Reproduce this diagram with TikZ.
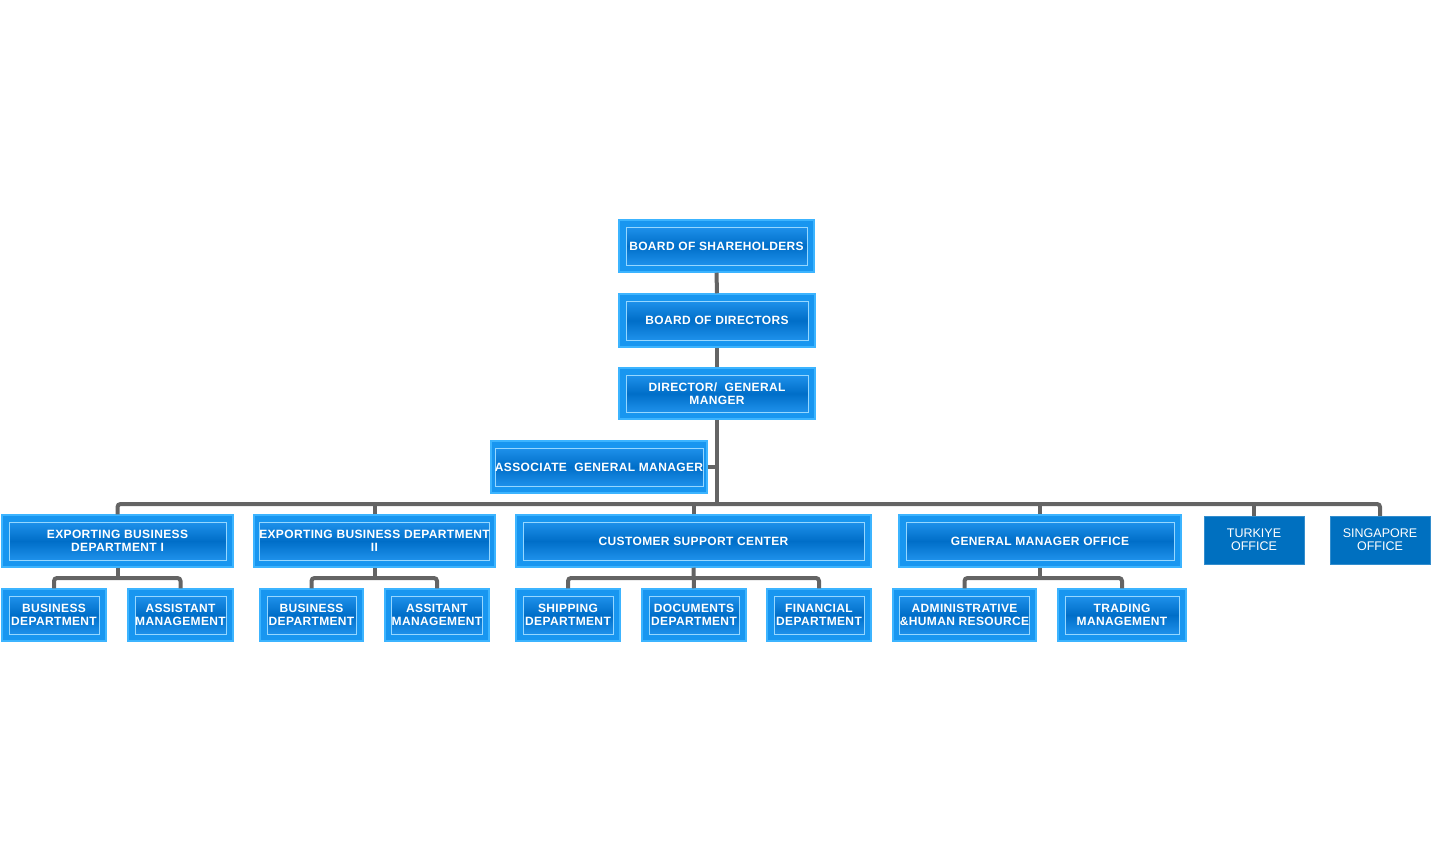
\documentclass[tikz,border=0pt]{standalone}
\usepackage{fontspec}
\setmainfont{Liberation Sans}
\usetikzlibrary{calc}
\definecolor{outerc}{RGB}{24,150,240}
\definecolor{outerd}{RGB}{60,180,255}
\definecolor{innerd}{RGB}{150,215,255}
\definecolor{innerdark}{RGB}{0,110,200}
\definecolor{innerlight}{RGB}{30,145,235}
\definecolor{flatc}{RGB}{0,112,192}
\definecolor{connc}{RGB}{100,100,100}
\tikzset{
  outerbox/.style={draw=outerd, line width=1.5pt, fill=outerc, inner sep=0pt},
  innerbox/.style={draw=innerd, line width=0.8pt, top color=innerlight, bottom color=innerlight, middle color=innerdark,
    inner sep=0pt, text=white, align=center, font=\fontsize{12}{13}\selectfont\bfseries\addfontfeatures{LetterSpace=3}},
  flatbox/.style={fill=flatc, draw=flatc!80!white, inner sep=0pt, text=white, align=center,
    font=\fontsize{12.5}{13}\selectfont},
  conn/.style={draw=connc, line width=4pt, rounded corners=3pt},
}
\newcommand{\bevbox}[6]{%
  \node[outerbox, minimum width={#4-#2}, minimum height={#5-#3}] (#1) at ({(#2+#4)/2},{(#3+#5)/2}) {};
  \node[innerbox, minimum width={#4-#2-14}, minimum height={#5-#3-14}] (#1-in) at (#1.center) {#6};
}
\begin{document}
\begin{tikzpicture}[x=1pt,y=-1pt]
\useasboundingbox (0,0) rectangle (1434,861);
% coordinates for buses
\coordinate (bus) at (0,504);
\coordinate (subbus) at (0,578);
% connectors first (behind boxes)
\begin{scope}[on background layer/.try]
\end{scope}
% level 0-1
\bevbox{bs}{619}{220}{814}{272}{BOARD OF SHAREHOLDERS}
\bevbox{bd}{619}{294}{815}{347}{BOARD OF DIRECTORS}
\bevbox{dgm}{619}{368}{815}{419}{DIRECTOR/\ \ GENERAL\\MANGER}
\bevbox{agm}{491}{441}{707}{493}{ASSOCIATE\ \ GENERAL MANAGER}
% level 2
\bevbox{ebd1}{2}{515}{233}{567}{EXPORTING BUSINESS\\DEPARTMENT I}
\bevbox{ebd2}{254}{515}{495}{567}{EXPORTING BUSINESS DEPARTMENT\\II}
\bevbox{csc}{516}{515}{871}{567}{CUSTOMER SUPPORT CENTER}
\bevbox{gmo}{899}{515}{1181}{567}{GENERAL MANAGER OFFICE}
\node[flatbox, minimum width=100, minimum height=48] (tk) at (1254,540) {TURKIYE\\OFFICE};
\node[flatbox, minimum width=100, minimum height=48] (sg) at (1380,540) {SINGAPORE\\OFFICE};
% level 3
\bevbox{bdep1}{2}{589}{106}{641}{BUSINESS\\DEPARTMENT}
\bevbox{am1}{128}{589}{233}{641}{ASSISTANT\\MANAGEMENT}
\bevbox{bdep2}{260}{589}{363}{641}{BUSINESS\\DEPARTMENT}
\bevbox{am2}{385}{589}{489}{641}{ASSITANT\\MANAGEMENT}
\bevbox{ship}{516}{589}{620}{641}{SHIPPING\\DEPARTMENT}
\bevbox{docs}{642}{589}{746}{641}{DOCUMENTS\\DEPARTMENT}
\bevbox{fin}{767}{589}{871}{641}{FINANCIAL\\DEPARTMENT}
\bevbox{adm}{893}{589}{1036}{641}{ADMINISTRATIVE\\\&HUMAN RESOURCE}
\bevbox{trd}{1058}{589}{1186}{641}{TRADING\\MANAGEMENT}
% connectors
\draw[conn] (bs.south) -- (bd.north);
\draw[conn] (bd.south) -- (dgm.north);
\draw[conn] (dgm.south) -- (dgm.south |- bus);
\draw[conn] (agm.east) -- (agm.east -| dgm.south);
\draw[conn] (ebd1.north) |- (dgm.south |- bus) -| (sg.north);
\draw[conn] (ebd2.north) -- (ebd2.north |- bus);
\draw[conn] (csc.north) -- (csc.north |- bus);
\draw[conn] (gmo.north) -- (gmo.north |- bus);
\draw[conn] (tk.north) -- (tk.north |- bus);
% sub-buses
\draw[conn] (bdep1.north) |- (ebd1.south |- subbus) -| (am1.north);
\draw[conn] (ebd1.south) -- (ebd1.south |- subbus);
\draw[conn] (bdep2.north) |- (ebd2.south |- subbus) -| (am2.north);
\draw[conn] (ebd2.south) -- (ebd2.south |- subbus);
\draw[conn] (ship.north) |- (csc.south |- subbus) -| (fin.north);
\draw[conn] (csc.south) -- (docs.north);
\draw[conn] (adm.north) |- (gmo.south |- subbus) -| (trd.north);
\draw[conn] (gmo.south) -- (gmo.south |- subbus);
\end{tikzpicture}
\end{document}
